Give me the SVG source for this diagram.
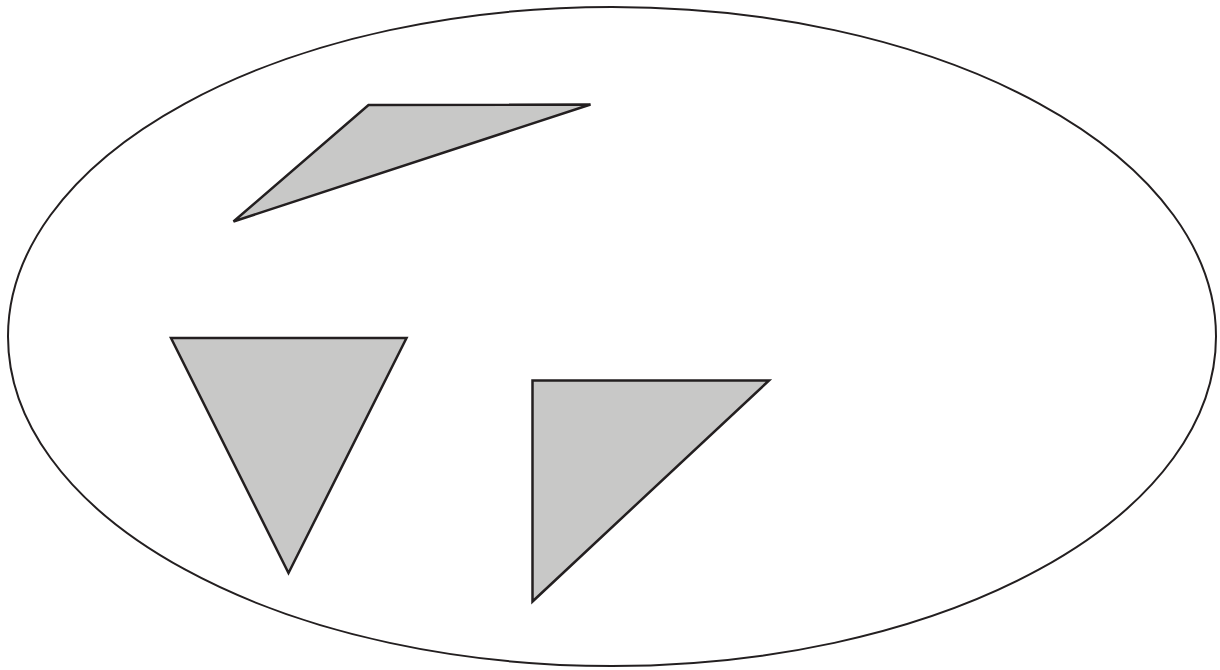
<svg xmlns="http://www.w3.org/2000/svg" width="1220" height="670" viewBox="0 0 1220 670">
<style>
.outline{fill:#ffffff;stroke:#231f20;stroke-width:2}
.tri{fill:#c8c8c7;stroke:#231f20;stroke-width:2.5;stroke-linejoin:miter}
</style>
<rect width="1220" height="670" fill="#ffffff"/>
<g id="ellipse"><ellipse class="outline" cx="612" cy="336.5" rx="604" ry="329.5"/></g>
<g id="triangle1"><polygon class="tri" points="368.5,105 590.5,104.5 233.5,221.5"/></g>
<g id="triangle2"><polygon class="tri" points="171,338 406.5,338 288.5,573"/></g>
<g id="triangle3"><polygon class="tri" points="532.5,380.5 769,380.5 532.5,601.5"/></g>
<g id="connectors"></g>
</svg>
